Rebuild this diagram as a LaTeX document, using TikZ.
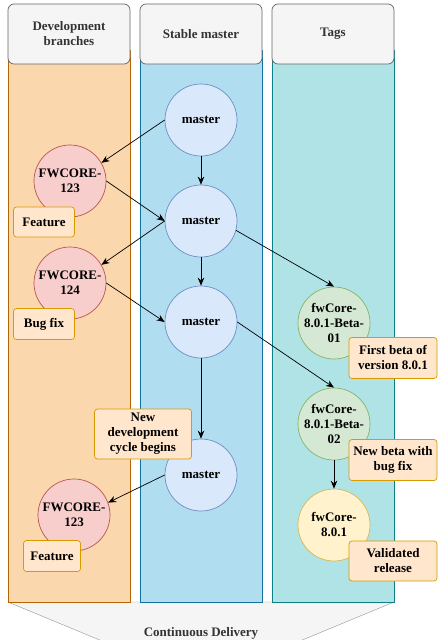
\documentclass[tikz,border=0pt]{standalone}
\usepackage{fontspec}
\setmainfont{Liberation Serif}
\usetikzlibrary{arrows.meta,positioning}

\definecolor{headfill}{HTML}{F5F5F5}
\definecolor{headline}{HTML}{666666}
\definecolor{devfill}{HTML}{FAD7AC}
\definecolor{devline}{HTML}{B46504}
\definecolor{stabfill}{HTML}{B1DDF0}
\definecolor{stabline}{HTML}{10739E}
\definecolor{tagfill}{HTML}{B0E3E6}
\definecolor{tagline}{HTML}{0E8088}
\definecolor{redfill}{HTML}{F8CECC}
\definecolor{redline}{HTML}{B85450}
\definecolor{bluefill}{HTML}{DAE8FC}
\definecolor{blueline}{HTML}{6C8EBF}
\definecolor{grnfill}{HTML}{D5E8D4}
\definecolor{grnline}{HTML}{82B366}
\definecolor{yelfill}{HTML}{FFF2CC}
\definecolor{yelline}{HTML}{D6B656}
\definecolor{notefill}{HTML}{FFE6CC}
\definecolor{noteline}{HTML}{D79B00}

\tikzset{
  txt/.style={font=\fontsize{13}{15}\selectfont\bfseries, align=center},
  head/.style={draw=headline, fill=headfill, rounded corners=6pt, line width=0.7pt},
  commit/.style={txt, circle, minimum size=72pt, inner sep=0pt, line width=0.7pt},
  featc/.style={commit, draw=redline, fill=redfill},
  mastc/.style={commit, draw=blueline, fill=bluefill},
  betac/.style={commit, draw=grnline, fill=grnfill},
  relc/.style={commit, draw=yelline, fill=yelfill},
  note/.style={txt, draw=noteline, fill=notefill, rounded corners=3pt, inner sep=2pt, line width=0.7pt},
  flow/.style={-{Stealth[length=8pt,width=6.5pt]}, line width=0.7pt}
}

\begin{document}
\begin{tikzpicture}[x=1pt,y=-1pt]
    \useasboundingbox (0,0) rectangle (438,640);
    \clip (0,0) rectangle (438,640);
    % lanes
    \draw[fill=headfill, draw=headline!70] (8,602) -- (394,602) -- (201,682) -- cycle;
    \node[txt, text=headline!50!black] (cd) at (201,633) {Continuous Delivery};
    \draw[fill=devfill, draw=devline, line width=0.7pt] (8,50) rectangle (130,602);
    \draw[fill=stabfill, draw=stabline, line width=0.7pt] (140,50) rectangle (262,602);
    \draw[fill=tagfill, draw=tagline, line width=0.7pt] (272,50) rectangle (394,602);
    \draw[head] (8,4) rectangle (130,64);
    \draw[head] (140,4) rectangle (262,64);
    \draw[head] (272,4) rectangle (394,64);
    \node[txt, text=headline!50!black] (hdev) at (69,34) {Development\\branches};
    \node[txt, text=headline!50!black] (hstab) at (201,34) {Stable master};
    \node[txt, text=headline!50!black] (htag) at (333,34) {Tags};
    % commits
    \node[mastc] (m1) at (201,120) {master};
    \node[mastc] (m2) at (201,221) {master};
    \node[mastc] (m3) at (201,322) {master};
    \node[mastc] (m4) at (201,475) {master};
    \node[featc] (f1) at (70,181) {FWCORE-\\123};
    \node[featc] (f2) at (70,283) {FWCORE-\\124};
    \node[featc] (f3) at (74,515) {FWCORE-\\123};
    \node[betac] (b1) at (334,323) {fwCore-\\8.0.1-Beta-\\01};
    \node[betac] (b2) at (334,424) {fwCore-\\8.0.1-Beta-\\02};
    \node[relc] (r1) at (334,525) {fwCore-\\8.0.1};
    % notes
    \node[note, minimum width=61pt, minimum height=30pt] (n1) at (44,222) {Feature};
    \node[note, minimum width=61pt, minimum height=31pt] (n2) at (44,324) {Bug fix};
    \node[note, minimum width=57pt, minimum height=31pt] (n3) at (52,556) {Feature};
    \node[note, minimum width=88pt, minimum height=41pt] (n4) at (393,358) {First beta of\\version 8.0.1};
    \node[note, minimum width=88pt, minimum height=41pt] (n5) at (393,460) {New beta with\\bug fix};
    \node[note, minimum width=88pt, minimum height=40pt] (n6) at (393,561) {Validated\\release};
    \node[note, minimum width=97pt, minimum height=50pt] (n7) at (143,434) {New\\development\\cycle begins};
    % flows
    \draw[flow] (m1.south) -- (m2.north);
    \draw[flow] (m2.south) -- (m3.north);
    \draw[flow] (m3.south) -- (m4.north);
    \draw[flow] (m1.west) -- (f1.30);
    \draw[flow] (f1.east) -- (m2.west);
    \draw[flow] (m2.west) -- (f2.30);
    \draw[flow] (f2.east) -- (m3.west);
    \draw[flow] (m2.-15) -- (b1.north);
    \draw[flow] (m3.east) -- (b2.north);
    \draw[flow] (m4.west) -- (f3.20);
    \draw[flow] (b2.south) -- (r1.north);
\end{tikzpicture}
\end{document}
